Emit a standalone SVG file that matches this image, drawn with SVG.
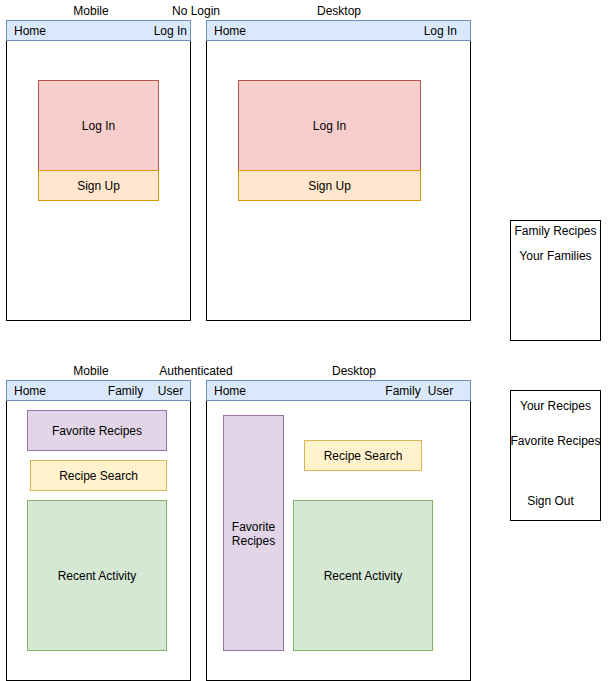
<svg xmlns="http://www.w3.org/2000/svg" width="611" height="681" viewBox="0 0 611 681">
<style>
text{font-family:"Liberation Sans",Arial,sans-serif;font-size:12px;fill:#000;}
.c{text-anchor:middle;dominant-baseline:central;}
.l{dominant-baseline:central;}
.r{text-anchor:end;dominant-baseline:central;}
.frame{fill:#fff;stroke:#000;stroke-width:1;}
.hdr{fill:#dae8fc;stroke:#6c8ebf;stroke-width:1;}
.login{fill:#f8cecc;stroke:#b85450;}
.signup{fill:#ffe6cc;stroke:#d79b00;}
.fav{fill:#e1d5e7;stroke:#9673a6;}
.search{fill:#fff2cc;stroke:#d6b656;}
.recent{fill:#d5e8d4;stroke:#82b366;}
</style>
<rect width="611" height="681" fill="#fff"/>
<g id="labels">
<text class="c" x="91" y="11">Mobile</text>
<text class="c" x="196" y="11">No Login</text>
<text class="c" x="339" y="11">Desktop</text>
<text class="c" x="91" y="371">Mobile</text>
<text class="c" x="196" y="371">Authenticated</text>
<text class="c" x="354" y="371">Desktop</text>
</g>
<g id="mobile-nologin">
<rect class="frame" x="6.5" y="20.5" width="184" height="300"/>
<rect class="hdr" x="6.5" y="20.5" width="184" height="20"/>
<text class="l" x="14" y="30.5">Home</text>
<text class="r" x="187" y="30.5">Log In</text>
</g>
<g id="mobile-login">
<rect class="login" x="38.5" y="80.5" width="120" height="90"/>
<text class="c" x="98.5" y="125.5">Log In</text>
</g>
<g id="mobile-signup">
<rect class="signup" x="38.5" y="170.5" width="120" height="30"/>
<text class="c" x="98.5" y="185.5">Sign Up</text>
</g>
<g id="desktop-nologin">
<rect class="frame" x="206.5" y="20.5" width="264" height="300"/>
<rect class="hdr" x="206.5" y="20.5" width="264" height="20"/>
<text class="l" x="214" y="30.5">Home</text>
<text class="r" x="457" y="30.5">Log In</text>
</g>
<g id="desktop-login">
<rect class="login" x="238.5" y="80.5" width="182" height="90"/>
<text class="c" x="329.5" y="125.5">Log In</text>
</g>
<g id="desktop-signup">
<rect class="signup" x="238.5" y="170.5" width="182" height="30"/>
<text class="c" x="329.5" y="185.5">Sign Up</text>
</g>
<g id="family-menu">
<rect class="frame" x="510.5" y="220.5" width="90" height="120"/>
<text class="c" x="555.5" y="230.5">Family Recipes</text>
<text class="c" x="555.5" y="255.5">Your Families</text>
</g>
<g id="mobile-auth">
<rect class="frame" x="6.5" y="380.5" width="184" height="300"/>
<rect class="hdr" x="6.5" y="380.5" width="184" height="20"/>
<text class="l" x="14" y="390.5">Home</text>
<text class="c" x="125.5" y="390.5">Family</text>
<text class="c" x="170.5" y="390.5">User</text>
</g>
<g id="mobile-fav">
<rect class="fav" x="27.5" y="410.5" width="139" height="40"/>
<text class="c" x="97" y="430.5">Favorite Recipes</text>
</g>
<g id="mobile-search">
<rect class="search" x="30.5" y="460.5" width="136" height="30"/>
<text class="c" x="98.5" y="475.5">Recipe Search</text>
</g>
<g id="mobile-recent">
<rect class="recent" x="27.5" y="500.5" width="139" height="150"/>
<text class="c" x="97" y="575.5">Recent Activity</text>
</g>
<g id="desktop-auth">
<rect class="frame" x="206.5" y="380.5" width="264" height="300"/>
<rect class="hdr" x="206.5" y="380.5" width="264" height="20"/>
<text class="l" x="214" y="390.5">Home</text>
<text class="c" x="403" y="390.5">Family</text>
<text class="c" x="440.5" y="390.5">User</text>
</g>
<g id="desktop-fav">
<rect class="fav" x="223.5" y="415.5" width="60" height="235"/>
<text class="c" x="253.5" y="526.5">Favorite</text>
<text class="c" x="253.5" y="540.5">Recipes</text>
</g>
<g id="desktop-search">
<rect class="search" x="304.5" y="440.5" width="117" height="30"/>
<text class="c" x="363" y="455.5">Recipe Search</text>
</g>
<g id="desktop-recent">
<rect class="recent" x="293.5" y="500.5" width="139" height="150"/>
<text class="c" x="363" y="575.5">Recent Activity</text>
</g>
<g id="user-menu">
<rect class="frame" x="510.5" y="390.5" width="90" height="130"/>
<text class="c" x="555.5" y="405.5">Your Recipes</text>
<text class="c" x="555.5" y="440.5">Favorite Recipes</text>
<text class="c" x="550.5" y="500.5">Sign Out</text>
</g>
<g id="connectors"></g>
</svg>
